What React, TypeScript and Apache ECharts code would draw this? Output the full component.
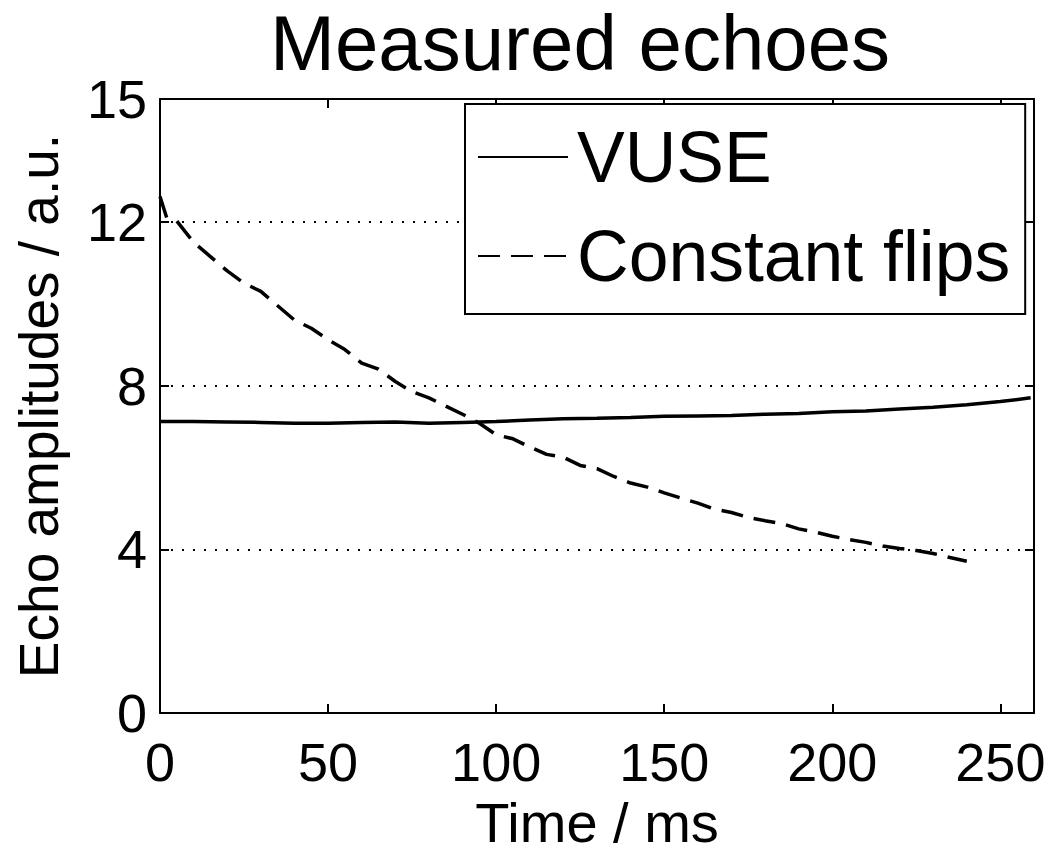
import React, { useEffect, useRef } from "react";
import * as echarts from "echarts";

const titleText = "Measured echoes";
const xName = "Time / ms";
const yName = "Echo amplitudes / a.u.";
const seriesNames = ["VUSE", "Constant flips"];

const vuseT = [0, 10, 20, 30, 40, 50, 60, 70, 80, 90, 100, 110, 120, 130, 140, 150, 160, 170, 180, 190, 200, 210, 220, 230, 240, 250, 259];
const vuseV = [7.12, 7.12, 7.11, 7.1, 7.08, 7.08, 7.1, 7.11, 7.08, 7.1, 7.12, 7.16, 7.19, 7.2, 7.22, 7.25, 7.26, 7.27, 7.3, 7.32, 7.36, 7.38, 7.43, 7.47, 7.53, 7.61, 7.7];

const cfT = [0, 2, 5, 10, 15, 20, 25, 30, 35, 40, 45, 50, 55, 60, 65, 70, 75, 80, 85, 90, 95, 100, 105, 110, 115, 120, 125, 130, 135, 140, 145, 150, 155, 160, 165, 170, 175, 180, 185, 190, 195, 200, 205, 210, 215, 220, 225, 230, 235, 240];
const cfV = [12.62, 12.1, 12.02, 11.5, 11.15, 10.8, 10.5, 10.3, 9.95, 9.6, 9.4, 9.12, 8.88, 8.55, 8.4, 8.1, 7.85, 7.7, 7.5, 7.3, 7.08, 6.8, 6.7, 6.5, 6.32, 6.25, 6.05, 5.97, 5.78, 5.62, 5.52, 5.38, 5.25, 5.13, 4.98, 4.9, 4.78, 4.7, 4.63, 4.5, 4.42, 4.32, 4.24, 4.17, 4.08, 4.02, 3.97, 3.9, 3.8, 3.71];

const xMin = 0;
const xMax = 260;
const xStep = 50;
const yMin = 0;
const yMax = 15;
const yStep = 4;

const FONT = "Liberation Sans, Arial, Helvetica, sans-serif";

export default function App() {
  const ref = useRef<HTMLDivElement>(null);
  useEffect(() => {
    if (!ref.current) return;
    const chart = echarts.init(ref.current, undefined, { renderer: "svg" });
    const axisLine = { show: true, onZero: false, lineStyle: { color: "#000", width: 2 } };
    const tick = { show: true, inside: true, length: 9, lineStyle: { color: "#000", width: 2 } };
    chart.setOption({
      animation: false,
      backgroundColor: "#fff",
      title: {
        text: titleText,
        left: 270,
        top: 4,
        padding: 0,
        textStyle: { fontFamily: FONT, fontSize: 78, fontWeight: "normal", color: "#000" },
      },
      legend: {
        orient: "vertical",
        left: 465,
        top: 104,
        padding: [17, 15, 22, 12],
        backgroundColor: "#fff",
        borderColor: "#000",
        borderWidth: 2,
        itemWidth: 90,
        itemHeight: 2,
        itemGap: 27,
        align: "left",
        textStyle: { fontFamily: FONT, fontSize: 71.5, color: "#000", lineHeight: 70, padding: [0, 0, 0, 4] },
        data: seriesNames,
      },
      grid: { left: 160, top: 99, right: 16, bottom: 133, containLabel: false },
      xAxis: [
        {
          type: "value",
          min: xMin,
          max: xMax,
          interval: xStep,
          position: "bottom",
          axisLine,
          axisTick: tick,
          splitLine: { show: false },
          axisLabel: {
            fontFamily: FONT,
            fontSize: 54,
            color: "#000",
            margin: 22,
            formatter: (v: number) => (v % xStep === 0 ? String(v) : ""),
          },
          name: xName,
          nameLocation: "middle",
          nameGap: 75,
          nameTextStyle: { fontFamily: FONT, fontSize: 56, color: "#000" },
        },
        {
          type: "value",
          min: xMin,
          max: xMax,
          interval: xStep,
          position: "top",
          axisLine,
          axisTick: tick,
          splitLine: { show: false },
          axisLabel: { show: false },
        },
      ],
      yAxis: [
        {
          type: "value",
          min: yMin,
          max: yMax,
          interval: yStep,
          position: "left",
          axisLine,
          axisTick: tick,
          splitLine: { show: true, lineStyle: { color: "#000", width: 2, type: [2, 9] } },
          axisLabel: { fontFamily: FONT, fontSize: 54, color: "#000", margin: 13 },
          name: yName,
          nameLocation: "middle",
          nameGap: 94,
          nameTextStyle: { fontFamily: FONT, fontSize: 55, color: "#000" },
        },
        {
          type: "value",
          min: yMin,
          max: yMax,
          interval: yStep,
          position: "right",
          axisLine,
          axisTick: tick,
          splitLine: { show: false },
          axisLabel: { show: false },
        },
      ],
      series: [
        {
          name: seriesNames[0],
          type: "line",
          symbol: "none",
          data: vuseT.map((t, i) => [t, vuseV[i]]),
          lineStyle: { color: "#000", width: 3.5, type: "solid" },
          itemStyle: { color: "#000" },
          z: 3,
        },
        {
          name: seriesNames[1],
          type: "line",
          symbol: "none",
          data: cfT.map((t, i) => [t, cfV[i]]),
          lineStyle: { color: "#000", width: 3.5, type: [22, 11] },
          itemStyle: { color: "#000" },
          z: 3,
        },
      ],
    });
    return () => chart.dispose();
  }, []);
  return (
    <div
      ref={ref}
      style={{ position: "fixed", left: 0, top: 0, width: 1050, height: 855, background: "#fff" }}
    />
  );
}
